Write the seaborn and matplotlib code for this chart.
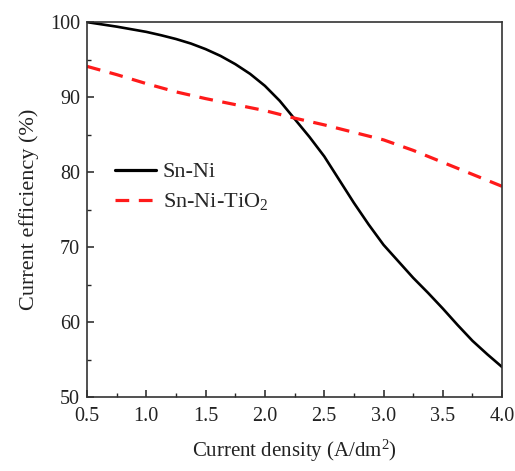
import numpy as np
import pandas as pd
import matplotlib
matplotlib.use("Agg")
import matplotlib.pyplot as plt
import seaborn as sns

# Current density (A/dm^2) and current efficiency (%) for each coating
density_ni = [0.5, 0.625, 0.75, 0.875, 1.0, 1.125, 1.25, 1.375, 1.5, 1.625,
              1.75, 1.875, 2.0, 2.125, 2.25, 2.375, 2.5, 2.625, 2.75, 2.875,
              3.0, 3.125, 3.25, 3.375, 3.5, 3.625, 3.75, 3.875, 4.0]
eff_ni = [100.0, 99.7, 99.4, 99.05, 98.7, 98.25, 97.75, 97.15, 96.4, 95.5,
          94.4, 93.1, 91.5, 89.5, 87.1, 84.7, 82.1, 79.0, 75.9, 73.0,
          70.3, 68.1, 65.9, 63.9, 61.8, 59.6, 57.5, 55.7, 54.0]

density_tio2 = [0.5, 0.75, 1.0, 1.25, 1.5, 1.75, 2.0, 2.25, 2.5, 2.75,
                3.0, 3.25, 3.5, 3.75, 4.0]
eff_tio2 = [94.1, 93.0, 91.8, 90.7, 89.8, 89.0, 88.2, 87.2, 86.3, 85.3,
            84.3, 82.9, 81.3, 79.7, 78.1]

series_names = ["Sn-Ni", "Sn-Ni-TiO$_2$"]
x_ticks = [0.5, 1.0, 1.5, 2.0, 2.5, 3.0, 3.5, 4.0]
y_ticks = [50, 60, 70, 80, 90, 100]

df = pd.concat([
    pd.DataFrame({"density": density_ni, "efficiency": eff_ni,
                  "coating": series_names[0]}),
    pd.DataFrame({"density": density_tio2, "efficiency": eff_tio2,
                  "coating": series_names[1]}),
], ignore_index=True)

sns.set_theme(style="ticks")
plt.rcParams["font.family"] = ["Liberation Serif", "DejaVu Serif"]
plt.rcParams["mathtext.fontset"] = "custom"
plt.rcParams["mathtext.rm"] = "Liberation Serif"
plt.rcParams["mathtext.it"] = "Liberation Serif:italic"

fig = plt.figure(figsize=(5.15, 4.71), dpi=100)
ax = fig.add_axes([0.169, 0.157, 0.806, 0.796])

sns.lineplot(data=df, x="density", y="efficiency", hue="coating",
             style="coating", ax=ax, sort=False,
             palette={series_names[0]: "black", series_names[1]: "#ff1a1a"},
             dashes={series_names[0]: "", series_names[1]: (4.3, 3.0)},
             linewidth=2.3, legend=True)
ax.lines[0].set_linewidth(1.9)

ax.set_xlim(0.5, 4.0)
ax.set_ylim(50, 100)
ax.set_xticks(x_ticks)
ax.set_xticklabels([f"{v:.1f}" for v in x_ticks])
ax.set_yticks(y_ticks)
ax.set_xticks(np.arange(0.75, 4.0, 0.5), minor=True)
ax.set_yticks(np.arange(55, 100, 10), minor=True)

ax.tick_params(axis="both", which="major", direction="in", length=5,
               width=1.1, labelsize=14.5, colors="#222222",
               top=False, right=False)
ax.tick_params(axis="x", which="major", pad=7)
ax.tick_params(axis="y", which="major", pad=5)
ax.tick_params(axis="both", which="minor", direction="in", length=3,
               width=1.0, top=False, right=False)

for side in ["left", "bottom", "top", "right"]:
    ax.spines[side].set_visible(True)
    ax.spines[side].set_linewidth(1.2)
    ax.spines[side].set_color("#333333")

ax.set_xlabel("Current density (A/dm$^2$)", fontsize=15, labelpad=9,
              color="#222222")
ax.set_ylabel("Current efficiency (%)", fontsize=16, labelpad=8,
              color="#222222")

handles, labels = ax.get_legend_handles_labels()
ax.legend(handles, labels, loc="center left", bbox_to_anchor=(0.067, 0.56),
          frameon=False, fontsize=16, handlelength=1.85, handletextpad=0.3,
          borderpad=0, borderaxespad=0, labelspacing=0.4)

fig.savefig("out.png", dpi=100)
